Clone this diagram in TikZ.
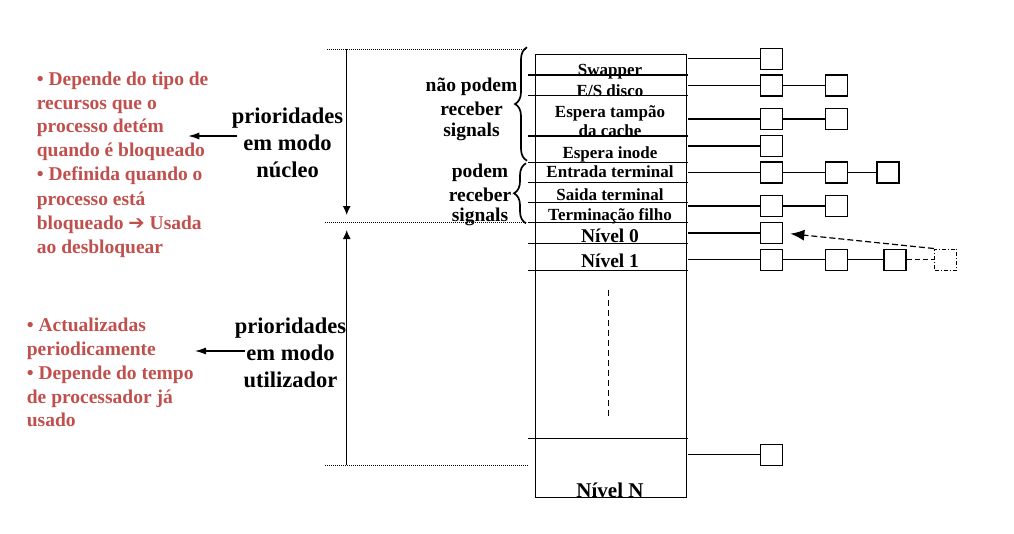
\documentclass[tikz,border=0pt]{standalone}
\usepackage{fontspec}
\setmainfont{Liberation Serif}
\newfontfamily\symfont{DejaVu Sans}
\usetikzlibrary{arrows.meta,decorations.pathreplacing}
\definecolor{redtx}{RGB}{192,80,77}
\begin{document}
\begin{tikzpicture}[x=1pt,y=-1pt,
  redtxt/.style={font=\fontsize{19.5}{24}\selectfont\bfseries,text=redtx,anchor=base west,inner sep=0pt},
  lbl/.style={font=\fontsize{22.5}{26}\selectfont\bfseries,anchor=base,inner sep=0pt},
  siglbl/.style={font=\fontsize{19.5}{23}\selectfont\bfseries,anchor=base,inner sep=0pt},
  cell/.style={font=\fontsize{17}{20}\selectfont\bfseries,anchor=base,inner sep=0pt},
  nivel/.style={font=\fontsize{19.5}{22}\selectfont\bfseries,anchor=base,inner sep=0pt},
  rowline/.style={line width=1.4pt},
  qbox/.style={draw,line width=1.4pt,minimum width=22pt,minimum height=21pt,inner sep=0pt},
  qdash/.style={qbox,dash pattern=on 4pt off 2pt on 1pt off 2pt},
  conn/.style={line width=1.4pt},
  dotline/.style={line width=0.9pt,dash pattern=on 1pt off 1pt},
  bigarrow/.style={line width=1.2pt,-{Latex[length=9pt,width=8pt]}},
  smallarrow/.style={line width=1.2pt,-{Latex[length=11pt,width=7pt]}},
  bracestyle/.style={line width=1.7pt,decorate,decoration={brace,amplitude=12pt}}
]
\useasboundingbox (0,0) rectangle (1014,533);

% main table
\node[draw,line width=1.4pt,minimum width=151pt,minimum height=443pt,inner sep=0pt,anchor=north west] (tbl) at (535,54) {};
\foreach \yy in {75,95.7,136,162.7,182.7,202.7,222.7,243.3,270.3,438.3}
  \draw[rowline] (528,\yy) -- (688,\yy);
\draw[line width=1.3pt,dash pattern=on 6pt off 4pt] (608.3,290) -- (608.3,417);

% cell texts
\node[cell] (c1) at (610,75) {Swapper};
\node[cell] (c2) at (610,96) {E/S disco};
\node[cell] (c3) at (610,117.3) {Espera tampão};
\node[cell] (c4) at (610,136.5) {da cache};
\node[cell] (c5) at (610,158.3) {Espera inode};
\node[cell] (c6) at (610,177.7) {Entrada terminal};
\node[cell] (c7) at (610,200) {Saida terminal};
\node[cell] (c8) at (610,220) {Terminação filho};
\node[nivel] (c9) at (610,242.7) {Nível 0};
\node[nivel] (c10) at (610,267.3) {Nível 1};
\node[nivel,font=\fontsize{21}{24}\selectfont\bfseries] (c11) at (610,497.3) {Nível N};

% queue boxes
\node[qbox] (q11) at (771.7,58.7) {};
\node[qbox] (q21) at (771.7,85.5) {};
\node[qbox] (q22) at (836.7,85.5) {};
\node[qbox] (q31) at (771.7,119) {};
\node[qbox] (q32) at (836.7,119) {};
\node[qbox] (q41) at (771.7,146) {};
\node[qbox] (q51) at (771.7,172.5) {};
\node[qbox] (q52) at (836.7,172.5) {};
\node[qbox] (q53) at (887.8,172.5) {};
\node[qbox] (q61) at (771.7,206) {};
\node[qbox] (q62) at (836.7,206) {};
\node[qbox] (q71) at (771.7,233) {};
\node[qbox] (q81) at (771.7,259.7) {};
\node[qbox] (q82) at (836.7,259.7) {};
\node[qbox] (q83) at (895,259.7) {};
\node[qdash] (qd) at (945.5,259.7) {};
\node[qbox] (qN1) at (771.7,454.7) {};

\coordinate (r1) at (688,58.7);
\coordinate (r2) at (688,85.5);
\coordinate (r3) at (688,119);
\coordinate (r4) at (688,146);
\coordinate (r5) at (688,172.5);
\coordinate (r6) at (688,206);
\coordinate (r7) at (688,233);
\coordinate (r8) at (688,259.7);
\coordinate (rN) at (688,454.7);

\draw[conn] (r1) -- (q11.west);
\draw[conn] (r2) -- (q21.west) (q21.east) -- (q22.west);
\draw[conn] (r3) -- (q31.west) (q31.east) -- (q32.west);
\draw[conn] (r4) -- (q41.west);
\draw[conn] (r5) -- (q51.west) (q51.east) -- (q52.west) (q52.east) -- (q53.west);
\draw[conn] (r6) -- (q61.west) (q61.east) -- (q62.west);
\draw[conn] (r7) -- (q71.west);
\draw[conn] (r8) -- (q81.west) (q81.east) -- (q82.west) (q82.east) -- (q83.west);
\draw[conn,dash pattern=on 5pt off 3pt] (q83.east) -- (qd.west);
\draw[conn] (rN) -- (qN1.west);
\draw[line width=1.2pt,dash pattern=on 6pt off 3pt,-{Latex[length=14pt,width=11pt]},shorten >=7pt] (qd.north west) -- (q71.east);

% dotted guide lines and vertical arrows
\coordinate (dtl) at (327,49);
\coordinate (dtr) at (527,49);
\coordinate (dml) at (325,222.7);
\coordinate (dmr) at (527,222.7);
\coordinate (dbl) at (325,465);
\coordinate (dbr) at (528,465);
\draw[dotline] (dtl) -- (dtr);
\draw[dotline] (dml) -- (dmr);
\draw[dotline] (dbl) -- (dbr);
\coordinate (vk1) at (346.7,49);
\coordinate (vk2) at (346.7,215);
\coordinate (vu1) at (346.7,465);
\coordinate (vu2) at (346.7,230);
\draw[bigarrow] (vk1) -- (vk2);
\draw[bigarrow] (vu1) -- (vu2);

% braces
\draw[bracestyle] (527,160.7) -- (527,47.3);
\draw[bracestyle] (526,223.3) -- (526,163.3);

% signal labels
\node[siglbl] (s1) at (471.5,91) {não podem};
\node[siglbl] (s2) at (471.5,115) {receber};
\node[siglbl] (s3) at (471.5,136.7) {signals};
\node[siglbl] (s4) at (480,177.3) {podem};
\node[siglbl] (s5) at (480,201.7) {receber};
\node[siglbl] (s6) at (480,221.7) {signals};

% priority labels
\node[lbl] (p1) at (287.5,123.3) {prioridades};
\node[lbl] (p2) at (287.5,150.7) {em modo};
\node[lbl] (p3) at (287.5,177.3) {núcleo};
\node[lbl] (u1) at (290.5,333.3) {prioridades};
\node[lbl] (u2) at (290.5,360) {em modo};
\node[lbl] (u3) at (290.5,387.3) {utilizador};

% red texts
\node[redtxt] (t1) at (36.7,85) {• Depende do tipo de};
\node[redtxt] (t2) at (36.7,109) {recursos que o};
\node[redtxt] (t3) at (36.7,132.3) {processo detém};
\node[redtxt] (t4) at (36.7,156.7) {quando é bloqueado};
\node[redtxt] (t5) at (36.7,180.7) {• Definida quando o};
\node[redtxt] (t6) at (36.7,205) {processo está};
\node[redtxt] (t7) at (36.7,229) {bloqueado {\symfont\bfseries ➔} Usada};
\node[redtxt] (t8) at (36.7,253.3) {ao desbloquear};
\node[redtxt] (w1) at (26.7,331.7) {• Actualizadas};
\node[redtxt] (w2) at (26.7,355) {periodicamente};
\node[redtxt] (w3) at (26.7,379) {• Depende do tempo};
\node[redtxt] (w4) at (26.7,403.3) {de processador já};
\node[redtxt] (w5) at (26.7,426.7) {usado};

% left arrows
\coordinate (ka) at (237,136);
\coordinate (kb) at (188.3,136);
\coordinate (ua) at (245,351);
\coordinate (ub) at (195,351);
\draw[smallarrow] (ka) -- (kb);
\draw[smallarrow] (ua) -- (ub);
\end{tikzpicture}
\end{document}
